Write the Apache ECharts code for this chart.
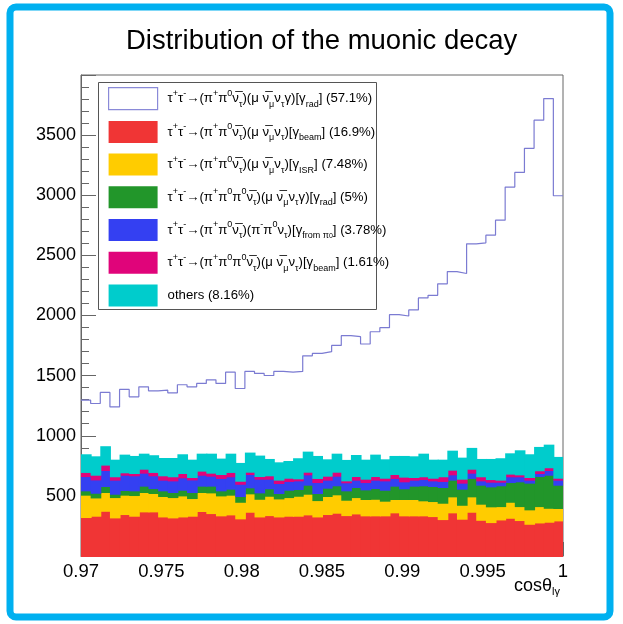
<!DOCTYPE html>
<html>
<head>
<meta charset="utf-8">
<title>Distribution of the muonic decay</title>
<script src="https://cdn.jsdelivr.net/npm/echarts@6/dist/echarts.min.js"></script>
<style>
  html, body { margin: 0; padding: 0; background: #fff; }
  #main { width: 623px; height: 624px; }
</style>
</head>
<body>
<div id="main"></div>
<script>
// 50 bins of 0.0006 between 0.97 and 1
var xMin = 0.97, binW = 0.0006;

// stacked components, bottom to top (counts per bin)
var beamCounts = [324,335,376,321,349,335,371,371,329,321, 329,335,374,357,338,346,313,368,329,340,
                  329,335,335,346,329,349,360,340,354,338, 338,338,363,338,338,338,332,307,363,310,
                  368,301,282,304,318,299,268,279,285,296];
var isrCounts = [186,152,156,169,161,172,161,153,170,169, 175,147,158,172,166,164,138,153,147,161,
                 150,155,166,172,136,150,153,128,136,136, 138,122,111,136,136,125,125,136,133,116,
                 128,134,131,111,133,116,120,136,116,103];
var pi3RadCounts = [36,39,50,28,39,39,53,41,47,42, 47,50,53,56,42,50,48,50,53,62,
                    45,61,56,75,59,69,75,78,84,80, 89,91,111,89,111,125,125,131,139,134,
                    153,158,166,173,164,206,222,250,275,194];
var fromPi0Counts = [119,111,133,117,127,125,108,106,89,97, 103,105,91,83,103,103,102,111,114,80,
                     83,73,72,86,91,67,80,67,61,61, 70,78,64,58,50,52,47,50,44,50,
                     44,36,39,30,48,42,25,25,39,42];
var pi3BeamCounts = [34,39,45,28,20,19,33,28,36,34, 36,20,34,25,33,36,25,19,22,28,
                     28,27,17,22,34,33,33,16,30,28, 30,22,33,39,22,23,22,39,39,33,
                     33,34,22,17,22,16,22,23,23,16];
var otherCounts = [147,153,153,138,147,142,125,139,144,152, 156,144,141,158,128,152,148,159,170,136,
                   144,139,167,167,183,136,150,170,175,158, 178,153,150,172,172,188,150,138,158,175,
                   173,144,167,178,169,200,189,194,188,173];
// top of the stack (signal drawn as outline only)
var totalCounts = [1296,1268,1360,1240,1385,1324,1407,1374,1379,1357, 1424,1407,1435,1465,1435,1529,1393,1535,1518,1501,
                   1535,1529,1535,1665,1685,1699,1751,1832,1824,1763, 1865,1899,2007,1996,2046,2146,2168,2263,2365,2349,
                   2596,2604,2668,2793,3068,3190,3390,3624,3804,2996];

var xTicks = [0.97, 0.975, 0.98, 0.985, 0.99, 0.995, 1];

var names = ['sig', 'beam', 'isr', 'pi3rad', 'frompi0', 'pi3beam', 'others'];
var labels = {
  sig:     'τ{sp|+}τ{sp|-}→(π{sp|+}π{sp|0}ν\u0305{sb|τ})(μ ν\u0305{sb|μ}ν{sb|τ}γ)[γ{sb|rad}] (57.1%)',
  beam:    'τ{sp|+}τ{sp|-}→(π{sp|+}π{sp|0}ν\u0305{sb|τ})(μ ν\u0305{sb|μ}ν{sb|τ})[γ{sb|beam}] (16.9%)',
  isr:     'τ{sp|+}τ{sp|-}→(π{sp|+}π{sp|0}ν\u0305{sb|τ})(μ ν\u0305{sb|μ}ν{sb|τ})[γ{sb|ISR}] (7.48%)',
  pi3rad:  'τ{sp|+}τ{sp|-}→(π{sp|+}π{sp|0}π{sp|0}ν\u0305{sb|τ})(μ ν\u0305{sb|μ}ν{sb|τ}γ)[γ{sb|rad}] (5%)',
  frompi0: 'τ{sp|+}τ{sp|-}→(π{sp|+}π{sp|0}ν\u0305{sb|τ})(π{sp|-}π{sp|0}ν{sb|τ})[γ{sb|from π}{ssp|0}] (3.78%)',
  pi3beam: 'τ{sp|+}τ{sp|-}→(π{sp|+}π{sp|0}π{sp|0}ν\u0305{sb|τ})(μ ν\u0305{sb|μ}ν{sb|τ})[γ{sb|beam}] (1.61%)',
  others:  'others (8.16%)'
};

var font = "'Liberation Sans', Arial, Helvetica, sans-serif";

var fills = [
  { name: 'beam', color: '#f03535', data: beamCounts },
  { name: 'isr', color: '#ffcc00', data: isrCounts },
  { name: 'pi3rad', color: '#22962a', data: pi3RadCounts },
  { name: 'frompi0', color: '#3440f2', data: fromPi0Counts },
  { name: 'pi3beam', color: '#e0047a', data: pi3BeamCounts },
  { name: 'others', color: '#00cccc', data: otherCounts }
];

// stack the components by hand: each bin -> [low edge, high edge, base, top]
var base = beamCounts.map(function () { return 0; });
var series = fills.map(function (f) {
  var rows = f.data.map(function (v, i) {
    var row = [xMin + i * binW, xMin + (i + 1) * binW, base[i], base[i] + v];
    base[i] += v;
    return row;
  });
  return {
    name: f.name,
    type: 'custom',
    itemStyle: { color: f.color },
    encode: { x: [0, 1], y: [2, 3] },
    data: rows,
    silent: true,
    renderItem: function (params, api) {
      var p0 = api.coord([api.value(0), api.value(3)]);
      var p1 = api.coord([api.value(1), api.value(2)]);
      var last = params.dataIndex === f.data.length - 1;
      return {
        type: 'rect',
        shape: { x: p0[0], y: p0[1], width: p1[0] - p0[0] + (last ? 0 : 1), height: p1[1] - p0[1] + 1 },
        style: { fill: f.color }
      };
    }
  };
});

var outline = totalCounts.map(function (v, i) { return [xMin + i * binW, v]; });
outline.push([1, totalCounts[totalCounts.length - 1]]);
series.push({
  name: 'sig',
  type: 'line',
  step: 'end',
  symbol: 'none',
  color: '#7b7bd2',
  lineStyle: { width: 1.2, color: '#7b7bd2' },
  data: outline,
  z: 5,
  silent: true
});

var chart = echarts.init(document.getElementById('main'));
var option = {
  animation: false,
  backgroundColor: '#fff',
  title: {
    text: 'Distribution of the muonic decay',
    left: 121,
    top: 22,
    textStyle: { fontFamily: font, fontSize: 27.5, fontWeight: 'normal', color: '#000' }
  },
  grid: { left: 81, right: 60, top: 75, bottom: 68, show: true, borderColor: '#666', borderWidth: 1 },
  xAxis: {
    type: 'value',
    min: xTicks[0],
    max: xTicks[xTicks.length - 1],
    interval: 0.005,
    axisLine: { lineStyle: { color: '#666' } },
    axisTick: { inside: true, length: 14, lineStyle: { color: '#666' } },
    minorTick: { show: true, splitNumber: 5, length: 7, lineStyle: { color: '#666' } },
    splitLine: { show: false },
    axisLabel: {
      margin: 6, fontFamily: font, fontSize: 18.5, color: '#000',
      formatter: function (v) { return String(parseFloat(v.toFixed(3))); }
    }
  },
  yAxis: {
    type: 'value',
    min: 0,
    max: 4000,
    interval: 500,
    axisLine: { show: true, lineStyle: { color: '#666' } },
    axisTick: { show: true, inside: true, length: 15, lineStyle: { color: '#666' } },
    minorTick: { show: true, splitNumber: 5, length: 8, lineStyle: { color: '#666' } },
    splitLine: { show: false },
    axisLabel: {
      margin: 5, fontFamily: font, fontSize: 18, color: '#000',
      formatter: function (v) { return (v === 0 || v === 4000) ? '' : String(v); }
    }
  },
  legend: {
    orient: 'vertical',
    left: 108,
    top: 87,
    padding: 0,
    itemWidth: 49,
    itemHeight: 22,
    itemGap: 10.7,
    icon: 'rect',
    selectedMode: false,
    z: 6,
    data: names.map(function (n) {
      if (n === 'sig') {
        return { name: n, itemStyle: { color: '#fff', borderColor: '#8a8ad8', borderWidth: 1.2 } };
      }
      return { name: n };
    }),
    formatter: function (n) { return labels[n]; },
    textStyle: {
      fontFamily: font, fontSize: 13.2, color: '#000', lineHeight: 20,
      padding: [0, 0, 0, 5],
      rich: {
        sp: { fontFamily: font, fontSize: 9, lineHeight: 9, verticalAlign: 'top', color: '#000' },
        sb: { fontFamily: font, fontSize: 9, lineHeight: 9, verticalAlign: 'bottom', color: '#000' },
        ssp: { fontFamily: font, fontSize: 7, lineHeight: 13, verticalAlign: 'bottom', color: '#000' }
      }
    }
  },
  graphic: [
    {
      type: 'rect', z: 4,
      shape: { x: 98.5, y: 82.5, width: 278, height: 227 },
      style: { fill: '#fff', stroke: '#555', lineWidth: 1 }
    },
    {
      type: 'text', left: 514, top: 577,
      style: {
        text: 'cosθ{s|lγ}',
        font: '18px ' + font,
        fill: '#000',
        rich: { s: { fontFamily: font, fontSize: 11, padding: [12, 0, 0, 0], fill: '#000' } }
      }
    },
    {
      type: 'rect', z: 10,
      shape: { x: 10, y: 7, width: 600, height: 610, r: 6 },
      style: { fill: 'none', stroke: '#00b0f0', lineWidth: 7 }
    }
  ],
  series: series
};
chart.setOption(option);
</script>
</body>
</html>
